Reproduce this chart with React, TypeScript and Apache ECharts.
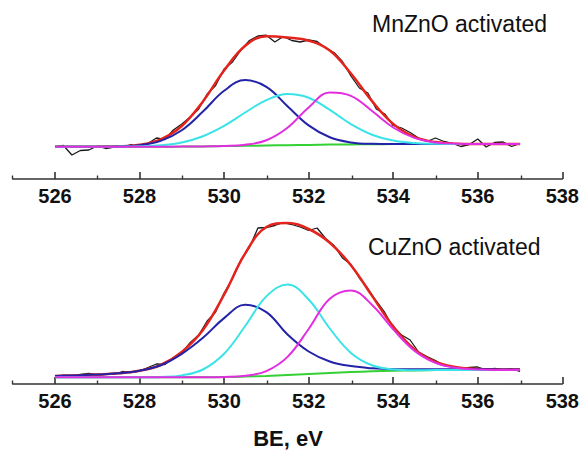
import React, { useEffect, useRef } from "react";
import * as echarts from "echarts";

// Binding energy grids (eV)
const EV_FIT = [526, 526.5, 527, 527.5, 528, 528.5, 529, 529.5, 530, 530.5, 531, 531.5, 532, 532.5, 533, 533.5, 534, 534.5, 535, 535.5, 536, 536.5, 537];
const EV_RAW = [
  526.0, 526.2, 526.4, 526.6, 526.8, 527.0, 527.2, 527.4, 527.6, 527.8,
  528.0, 528.2, 528.4, 528.6, 528.8, 529.0, 529.2, 529.4, 529.6, 529.8,
  530.0, 530.2, 530.4, 530.6, 530.8, 531.0, 531.2, 531.4, 531.6, 531.8,
  532.0, 532.2, 532.4, 532.6, 532.8, 533.0, 533.2, 533.4, 533.6, 533.8,
  534.0, 534.2, 534.4, 534.6, 534.8, 535.0, 535.2, 535.4, 535.6, 535.8,
  536.0, 536.2, 536.4, 536.6, 536.8, 537.0,
];

// Tick labels
const MAJOR_TICKS = [526, 528, 530, 532, 534, 536, 538];
const MINOR_TICKS = [525, 527, 529, 531, 533, 535, 537];

// MnZnO activated (intensity, arbitrary units)
const MN_RAW = [
  32.0, 33.5, 24.0, 28.5, 29.0, 33.0, 30.5, 32.0, 31.8, 34.5,
  32.0, 35.5, 41.0, 39.5, 49.0, 55.0, 62.0, 70.0, 85.0, 93.5,
  110.0, 117.0, 129.0, 138.5, 143.0, 143.8, 137.0, 142.5, 138.5, 137.0,
  139.0, 137.5, 131.0, 126.5, 117.5, 103.0, 91.0, 86.0, 70.0, 65.0,
  53.5, 51.0, 46.5, 41.0, 37.5, 41.0, 37.5, 35.5, 32.5, 34.5,
  40.0, 32.0, 36.5, 37.0, 32.5, 35.5,
];
const MN_FIT = [32.3, 32.3, 32.4, 32.7, 34.2, 39.6, 53.0, 77.6, 108.5, 133.2, 142.8, 141.5, 138.3, 128.5, 105.5, 77.9, 55.1, 42.1, 36.9, 35.3, 35.05, 35, 35];
const MN_BG = [32.3, 32.3, 32.3, 32.3, 32.3, 32.3, 32.4, 32.6, 32.9, 33.2, 33.5, 33.8, 34.1, 34.4, 34.6, 34.8, 34.9, 35, 35, 35, 35, 35, 35];
const MN_P1 = [32.3, 32.3, 32.35, 32.6, 33.8, 38.1, 48.8, 67.4, 88.2, 98.9, 92.1, 72.8, 53.6, 41.7, 36.6, 35.2, 35, 35, 35, 35, 35, 35, 35];
const MN_P2 = [32.3, 32.3, 32.3, 32.4, 32.7, 33.8, 36.6, 42.8, 53.1, 66.5, 78.9, 85.0, 81.3, 69.1, 54.9, 44.3, 38.4, 36.0, 35.25, 35, 35, 35, 35];
const MN_P3 = [32.3, 32.3, 32.3, 32.3, 32.3, 32.3, 32.4, 32.6, 33.0, 34.2, 38.8, 51.3, 71.6, 86.5, 83.2, 68.0, 51.5, 41.1, 36.6, 35.3, 35.05, 35, 35];

// CuZnO activated
const CU_RAW = [
  6.5, 8.8, 8.0, 9.5, 10.5, 9.0, 10.2, 9.8, 12.5, 11.5,
  13.0, 16.5, 20.0, 19.5, 26.5, 31.0, 41.5, 49.0, 63.0, 72.0,
  91.0, 105.5, 124.0, 136.5, 156.0, 156.5, 158.5, 161.5, 159.5, 157.0,
  153.5, 156.0, 145.5, 138.5, 126.0, 119.5, 106.0, 95.5, 83.0, 71.5,
  56.5, 49.0, 44.0, 32.0, 27.5, 23.5, 18.5, 17.5, 14.5, 16.5,
  17.0, 14.0, 15.5, 14.0, 15.0, 12.5,
];
const CU_FIT = [8.0, 8.6, 9.4, 10.7, 13.3, 19.0, 32.1, 54.0, 89.3, 130.7, 157.0, 161.0, 155.0, 141.3, 118.8, 88.1, 57.6, 34.7, 22.0, 16.8, 15.1, 14.7, 14.5];
const CU_BG = [6.7, 6.7, 6.7, 6.7, 6.7, 6.7, 6.7, 6.7, 6.9, 7.4, 8.1, 9.0, 10.0, 11.0, 11.9, 12.7, 13.2, 13.6, 13.9, 14, 14, 14, 14];
const CU_P1 = [8.0, 8.6, 9.4, 10.7, 13.3, 18.7, 30.2, 46.2, 65.9, 79.2, 71.9, 49.5, 32.5, 22.5, 17.9, 15.7, 14.8, 14.7, 14.8, 14.8, 14.7, 14.6, 14.5];
const CU_P2 = [6.7, 6.7, 6.7, 6.7, 6.7, 7.0, 8.6, 14.5, 30.2, 58.0, 87.6, 99.4, 84.5, 55.5, 31.1, 18.7, 14.6, 13.8, 13.9, 14, 14, 14, 14];
const CU_P3 = [6.7, 6.7, 6.7, 6.7, 6.7, 6.7, 6.7, 6.7, 7.0, 8.25, 12.9, 27.1, 55.0, 85.3, 93.6, 79.1, 54.6, 33.4, 21.1, 16.0, 14.44, 14.07, 14];

const FONT = "'Liberation Sans', Arial, Helvetica, sans-serif";
const AXIS_COLOR = "#333";

const COLORS = {
  raw: "#1a1a1a",
  fit: "#e3231c",
  bg: "#35d035",
  p1: "#2323a8",
  p2: "#3ae3e8",
  p3: "#e22ee0",
};

function pairs(xs: number[], ys: number[]) {
  return xs.map((x, i) => [x, ys[i]]);
}

function lineSeries(xs: number[], ys: number[], color: string, width: number, idx: number, smooth: number | boolean, z: number) {
  return {
    type: "line",
    xAxisIndex: idx,
    yAxisIndex: idx,
    data: pairs(xs, ys),
    showSymbol: false,
    symbol: "none",
    smooth,
    lineStyle: { color, width },
    z,
    silent: true,
  };
}

function mainAxis(gridIndex: number) {
  return {
    type: "value",
    gridIndex,
    min: 525,
    max: 538,
    axisLine: { show: true, onZero: false, lineStyle: { color: AXIS_COLOR, width: 1.6 } },
    axisTick: { show: true, inside: true, length: 7, customValues: MAJOR_TICKS, lineStyle: { color: AXIS_COLOR, width: 1.6 } },
    axisLabel: { show: true, customValues: MAJOR_TICKS, margin: 7, fontSize: 20, fontWeight: "bold", color: "#111", fontFamily: FONT },
    splitLine: { show: false },
  };
}

function minorAxis(gridIndex: number) {
  return {
    type: "value",
    gridIndex,
    min: 525,
    max: 538,
    axisLine: { show: false, onZero: false },
    axisTick: { show: true, inside: true, length: 3.5, customValues: MINOR_TICKS, lineStyle: { color: AXIS_COLOR, width: 1.4 } },
    axisLabel: { show: false },
    splitLine: { show: false },
  };
}

export default function App() {
  const ref = useRef<HTMLDivElement>(null);
  useEffect(() => {
    if (!ref.current) return;
    const chart = echarts.init(ref.current, null, { renderer: "svg" });
    const topGrid = { left: 12.7, right: 18.3, top: 29, height: 150 };
    const botGrid = { left: 12.7, right: 18.3, top: 209, height: 175 };
    chart.setOption({
      animation: false,
      backgroundColor: "#ffffff",
      grid: [topGrid, botGrid, topGrid, botGrid],
      xAxis: [mainAxis(0), mainAxis(1), minorAxis(2), minorAxis(3)],
      yAxis: [
        { type: "value", gridIndex: 0, min: 0, max: 150, show: false },
        { type: "value", gridIndex: 1, min: 0, max: 175, show: false },
        { type: "value", gridIndex: 2, min: 0, max: 150, show: false },
        { type: "value", gridIndex: 3, min: 0, max: 175, show: false },
      ],
      series: [
        lineSeries(EV_RAW, MN_RAW, COLORS.raw, 1.3, 0, false, 1),
        lineSeries(EV_FIT, MN_FIT, COLORS.fit, 2.5, 0, 0.4, 2),
        lineSeries(EV_FIT, MN_BG, COLORS.bg, 2, 0, 0.4, 3),
        lineSeries(EV_FIT, MN_P1, COLORS.p1, 2, 0, 0.4, 4),
        lineSeries(EV_FIT, MN_P2, COLORS.p2, 2, 0, 0.4, 5),
        lineSeries(EV_FIT, MN_P3, COLORS.p3, 2, 0, 0.4, 6),
        lineSeries(EV_RAW, CU_RAW, COLORS.raw, 1.3, 1, false, 1),
        lineSeries(EV_FIT, CU_FIT, COLORS.fit, 2.5, 1, 0.4, 2),
        lineSeries(EV_FIT, CU_BG, COLORS.bg, 2, 1, 0.4, 3),
        lineSeries(EV_FIT, CU_P1, COLORS.p1, 2, 1, 0.4, 4),
        lineSeries(EV_FIT, CU_P2, COLORS.p2, 2, 1, 0.4, 5),
        lineSeries(EV_FIT, CU_P3, COLORS.p3, 2, 1, 0.4, 6),
      ],
      graphic: [
        {
          type: "text",
          left: 372,
          top: 12,
          style: { text: "MnZnO activated", fontSize: 23, fontFamily: FONT, fill: "#111" },
        },
        {
          type: "text",
          left: 368,
          top: 235,
          style: { text: "CuZnO activated", fontSize: 23, fontFamily: FONT, fill: "#111" },
        },
        {
          type: "text",
          x: 288,
          y: 438,
          style: { text: "BE, eV", fontSize: 22, fontWeight: "bold", fontFamily: FONT, fill: "#111", align: "center", verticalAlign: "middle" },
        },
      ],
    });
    return () => chart.dispose();
  }, []);
  return (
    <div
      ref={ref}
      style={{ position: "fixed", left: 0, top: 0, width: 582, height: 451, background: "#fff" }}
    />
  );
}
